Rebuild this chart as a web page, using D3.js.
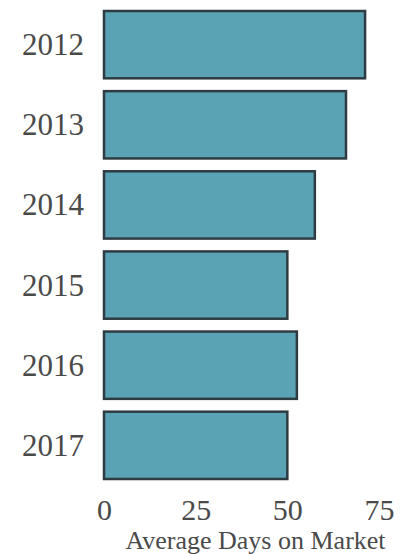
<!DOCTYPE html>
<html lang="en">
<head>
  <meta charset="UTF-8">
  <title>Average Days on Market</title>
  <script src="https://d3js.org/d3.v7.min.js"></script>
  <style>
    body {
      margin: 0;
      background: #fff;
      font-family: "Liberation Serif", "DejaVu Serif", serif;
    }
    .axis text {
      fill: #4a4a4a;
    }
    .axis path,
    .axis line {
      display: none;
    }
    .bar {
      fill: #5aa3b4;
      stroke: #2f3b42;
      stroke-width: 2.5px;
    }
  </style>
</head>
<body>
  <svg id="chart" width="412" height="554"></svg>

  <script>
    // values
    const years = ["2012", "2013", "2014", "2015", "2016", "2017"];
    const avgDays = [71.2, 66, 57.5, 50, 52.6, 50];
    const ticks = [0, 25, 50, 75];

    const data = years.map((y, i) => ({year: y, days: avgDays[i]}));
    const serif = "'Liberation Serif', 'DejaVu Serif', serif";

    const svg = d3.select("#chart");

    const x = d3.scaleLinear()
      .domain([0, 75])
      .range([104, 379]);

    const y = d3.scaleBand()
      .domain(years)
      .range([11, 479])
      .paddingInner(0.16)
      .paddingOuter(0);

    svg.append("g")
      .selectAll("rect")
      .data(data)
      .join("rect")
      .attr("class", "bar")
      .attr("x", x(0))
      .attr("y", d => y(d.year))
      .attr("width", d => x(d.days) - x(0))
      .attr("height", y.bandwidth());

    // year labels
    svg.append("g")
      .attr("class", "axis")
      .attr("transform", `translate(${x(0)},0)`)
      .call(d3.axisLeft(y).tickSize(0).tickPadding(20))
      .attr("font-family", serif)
      .selectAll("text")
      .style("font-size", "31px")
      .attr("dy", "0.34em");

    // x tick labels
    svg.append("g")
      .attr("class", "axis")
      .attr("transform", "translate(0,499)")
      .call(d3.axisBottom(x).tickValues(ticks).tickSize(0).tickPadding(0))
      .attr("font-family", serif)
      .selectAll("text")
      .style("font-size", "30px")
      .attr("dy", "0.71em");

    svg.append("text")
      .attr("x", (x(0) + x(75)) / 2 + 14)
      .attr("y", 549)
      .attr("text-anchor", "middle")
      .attr("fill", "#4a4a4a")
      .style("font-family", serif)
      .style("font-size", "26px")
      .text("Average Days on Market");
  </script>
</body>
</html>
